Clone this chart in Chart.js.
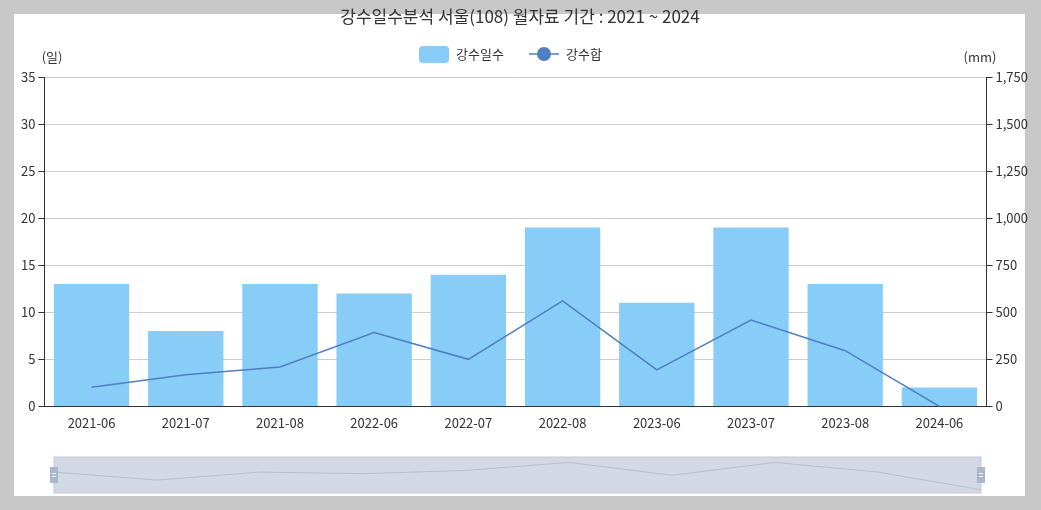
<!DOCTYPE html>
<html>
<head>
<meta charset="utf-8">
<script src="https://cdn.jsdelivr.net/npm/chart.js@4"></script>
<style>
  body { margin: 0; background: #c8c8c8; }
  #panel { position: absolute; left: 14px; top: 14px; width: 1011px; height: 482px; background: #fff; }
  #wrap { position: absolute; left: 0; top: 0; width: 1041px; height: 510px; }
</style>
</head>
<body>
<div id="panel"></div>
<div id="wrap"><canvas id="chart" width="1041" height="510"></canvas></div>
<script>
const FONT = '"Noto Sans CJK KR", "Noto Sans", sans-serif';
const categories = ['2021-06', '2021-07', '2021-08', '2022-06', '2022-07', '2022-08', '2023-06', '2023-07', '2023-08', '2024-06'];
const rainDays = [13, 8, 13, 12, 14, 19, 11, 19, 13, 2];
const rainSum = [102, 168, 209, 393, 250, 561, 194, 459, 296, 0];
const dayTicks = [0, 5, 10, 15, 20, 25, 30, 35];
const mmTicks = [0, 250, 500, 750, 1000, 1250, 1500, 1750];

// title, legend, units and the zoom slider are drawn by hand (echarts look)
const decor = {
    id: 'decor',
    afterDraw(chart) {
        const ctx = chart.ctx;
        ctx.save();
        ctx.fillStyle = '#333';
        ctx.textBaseline = 'middle';
        ctx.textAlign = 'center';
        ctx.font = '17px ' + FONT;
        ctx.fillText('강수일수분석 서울(108) 월자료 기간 : 2021 ~ 2024', 520, 17);

        // legend
        ctx.font = '13px ' + FONT;
        ctx.fillStyle = '#88ccf8';
        ctx.beginPath();
        ctx.roundRect(419, 46, 30, 17, 4);
        ctx.fill();
        ctx.fillStyle = '#333';
        ctx.textAlign = 'left';
        ctx.fillText('강수일수', 456, 54);
        ctx.strokeStyle = '#4f7fc0';
        ctx.lineWidth = 1.5;
        ctx.beginPath();
        ctx.moveTo(529, 54); ctx.lineTo(559, 54); ctx.stroke();
        ctx.fillStyle = '#4f7fc0';
        ctx.beginPath(); ctx.arc(544, 54, 7, 0, Math.PI * 2); ctx.fill();
        ctx.fillStyle = '#333';
        ctx.fillText('강수합', 566, 54);

        // units
        ctx.textAlign = 'center';
        ctx.fillText('(일)', 52, 57);
        ctx.fillText('(mm)', 980, 57);

        // zoom slider
        const x0 = 54, x1 = 981, y0 = 457, y1 = 493;
        ctx.fillStyle = '#d3d9e4';
        ctx.fillRect(x0, y0, x1 - x0, y1 - y0);
        ctx.strokeStyle = '#c4cad6';
        ctx.lineWidth = 1;
        ctx.strokeRect(x0, y0, x1 - x0, y1 - y0);
        ctx.beginPath();
        const maxV = Math.max(...rainDays);
        rainDays.forEach((v, i) => {
            const x = x0 + (x1 - x0) * i / (rainDays.length - 1);
            const y = y1 - (y1 - y0) * 0.85 * v / maxV;
            if (i === 0) ctx.moveTo(x, y); else ctx.lineTo(x, y);
        });
        ctx.strokeStyle = '#b8bfcc';
        ctx.stroke();
        [x0, x1].forEach(x => {
            ctx.fillStyle = '#a7b7cc';
            ctx.fillRect(x - 4, y0 + 10, 8, 16);
            ctx.fillStyle = '#fff';
            ctx.fillRect(x - 2, y0 + 16, 4, 1);
            ctx.fillRect(x - 2, y0 + 19, 4, 1);
        });
        ctx.restore();
    }
};

new Chart(document.getElementById('chart'), {
    data: {
        labels: categories,
        datasets: [{
            type: 'line',
            label: '강수합',
            data: rainSum,
            yAxisID: 'yMm',
            borderColor: '#4f7fc0',
            borderWidth: 1.5,
            pointRadius: 0,
            tension: 0,
            order: 0
        }, {
            type: 'bar',
            label: '강수일수',
            data: rainDays,
            yAxisID: 'yDay',
            backgroundColor: '#88ccf8',
            barPercentage: 0.8,
            categoryPercentage: 1,
            order: 1
        }]
    },
    options: {
        responsive: false,
        animation: false,
        devicePixelRatio: 1,
        layout: { padding: { top: 77, left: 18, right: 10, bottom: 76 } },
        plugins: { legend: { display: false }, title: { display: false }, tooltip: { enabled: false } },
        scales: {
            x: {
                grid: { display: false, drawOnChartArea: false, tickLength: 6 },
                border: { color: '#333' },
                ticks: { color: '#333', font: { family: FONT, size: 13 }, maxRotation: 0 }
            },
            yDay: {
                position: 'left',
                min: 0, max: 35,
                afterBuildTicks: axis => { axis.ticks = dayTicks.map(v => ({ value: v })); },
                grid: { color: '#ccc', tickLength: 6, tickColor: '#333' },
                border: { color: '#333' },
                ticks: { color: '#333', font: { family: FONT, size: 13 } }
            },
            yMm: {
                position: 'right',
                min: 0, max: 1750,
                afterBuildTicks: axis => { axis.ticks = mmTicks.map(v => ({ value: v })); },
                grid: { drawOnChartArea: false, tickLength: 6, tickColor: '#333' },
                border: { color: '#333' },
                ticks: { color: '#333', font: { family: FONT, size: 13 }, callback: v => v.toLocaleString('en-US') }
            }
        }
    },
    plugins: [decor]
});
</script>
</body>
</html>
